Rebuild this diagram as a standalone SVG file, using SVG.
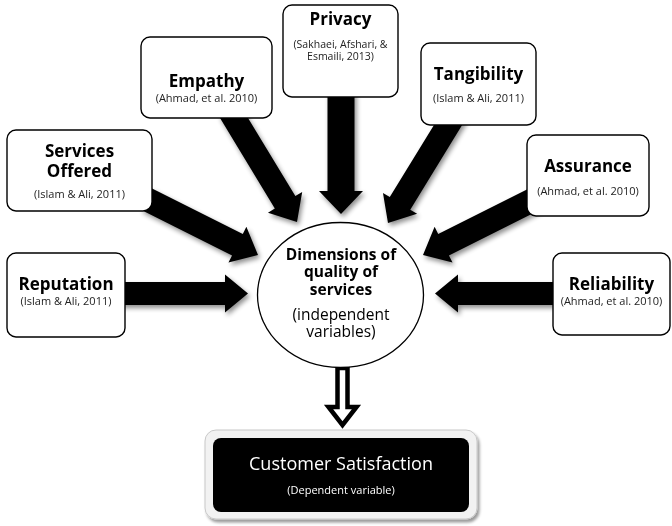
<svg xmlns="http://www.w3.org/2000/svg" width="672" height="526" viewBox="0 0 672 526">
  <defs>
    <style>
      text { font-family: "Open Sans", "Liberation Sans", sans-serif; text-anchor: middle; fill: #000; }
      .title { font-size: 17px; font-weight: 700; }
      .cite { font-size: 11px; font-weight: 400; fill: #222; }
      .cite-sm { font-size: 10.5px; font-weight: 400; fill: #222; }
      .core { font-size: 15.5px; font-weight: 700; }
      .core-sub { font-size: 15.5px; font-weight: 400; }
      .box { fill: #fff; stroke: #000; stroke-width: 1.4; }
      .arrow { fill: #000; }
      .out-title { font-size: 18px; font-weight: 400; fill: #fff; }
      .out-sub { font-size: 11px; font-weight: 400; fill: #fff; }
    </style>
    <filter id="softShadow" x="-30%" y="-30%" width="160%" height="160%">
      <feGaussianBlur in="SourceAlpha" stdDeviation="2.5"/>
      <feOffset dx="2" dy="3" result="blur"/>
      <feComponentTransfer><feFuncA type="linear" slope="0.45"/></feComponentTransfer>
      <feMerge><feMergeNode/><feMergeNode in="SourceGraphic"/></feMerge>
    </filter>
    <filter id="frameShadow" x="-10%" y="-20%" width="120%" height="150%">
      <feGaussianBlur in="SourceAlpha" stdDeviation="1.5"/>
      <feOffset dx="2" dy="3"/>
      <feComponentTransfer><feFuncA type="linear" slope="0.4"/></feComponentTransfer>
      <feMerge><feMergeNode/><feMergeNode in="SourceGraphic"/></feMerge>
    </filter>
  </defs>

  <!-- block arrows: each drawn pointing +x with its tip at the origin -->
  <g id="connectors" filter="url(#softShadow)">
    <path class="arrow" transform="translate(248,293.5)" d="M-128,-11.5 H-23 V-19 L0,0 L-23,19 V11.5 H-128 Z"/>
    <path class="arrow" transform="translate(435,293.5) rotate(180)" d="M-125,-11.5 H-23 V-19 L0,0 L-23,19 V11.5 H-125 Z"/>
    <path class="arrow" transform="translate(258,255) rotate(26.6)" d="M-125,-12 H-23 V-20 L0,0 L-23,20 V12 H-125 Z"/>
    <path class="arrow" transform="translate(423,255) rotate(153.4)" d="M-125,-12 H-23 V-20 L0,0 L-23,20 V12 H-125 Z"/>
    <path class="arrow" transform="translate(297,222) rotate(58.8)" d="M-132,-12 H-23 V-20 L0,0 L-23,20 V12 H-132 Z"/>
    <path class="arrow" transform="translate(388,223) rotate(121.5)" d="M-132,-12 H-23 V-20 L0,0 L-23,20 V12 H-132 Z"/>
    <path class="arrow" transform="translate(341,214) rotate(90)" d="M-125,-13.5 H-23 V-22 L0,0 L-23,22 V13.5 H-125 Z"/>
  </g>

  <!-- hollow arrow to the outcome -->
  <g id="outcome-link">
    <path d="M337.5,368 H347.5 V407 H356.5 L342.5,425 L328.5,407 H337.5 Z" fill="#fff" stroke="#000" stroke-width="4.5" stroke-linejoin="miter"/>
  </g>

  <g id="reputation">
    <rect class="box" x="7" y="253" width="118" height="84" rx="9"/>
    <text class="title" x="66" y="290">Reputation</text>
    <text class="cite" x="66" y="305">(Islam &amp; Ali, 2011)</text>
  </g>

  <g id="services-offered">
    <rect class="box" x="7" y="130" width="145" height="81" rx="9"/>
    <text class="title" x="79.5" y="157">Services</text>
    <text class="title" x="79.5" y="177">Offered</text>
    <text class="cite" x="79.5" y="198">(Islam &amp; Ali, 2011)</text>
  </g>

  <g id="empathy">
    <rect class="box" x="141" y="37" width="131" height="81" rx="9"/>
    <text class="title" x="206.5" y="87">Empathy</text>
    <text class="cite" x="206.5" y="102">(Ahmad, et al. 2010)</text>
  </g>

  <g id="privacy">
    <rect class="box" x="283" y="5" width="115" height="92" rx="9"/>
    <text class="title" x="340.5" y="25">Privacy</text>
    <text class="cite-sm" x="340.5" y="48">(Sakhaei, Afshari, &amp;</text>
    <text class="cite-sm" x="340.5" y="60">Esmaili, 2013)</text>
  </g>

  <g id="tangibility">
    <rect class="box" x="421" y="43" width="115" height="82" rx="9"/>
    <text class="title" x="478.5" y="80">Tangibility</text>
    <text class="cite" x="478.5" y="102">(Islam &amp; Ali, 2011)</text>
  </g>

  <g id="assurance">
    <rect class="box" x="527" y="135" width="122" height="81" rx="9"/>
    <text class="title" x="588" y="172">Assurance</text>
    <text class="cite" x="588" y="195">(Ahmad, et al. 2010)</text>
  </g>

  <g id="reliability">
    <rect class="box" x="553" y="253" width="117" height="82" rx="9"/>
    <text class="title" x="611.5" y="290">Reliability</text>
    <text class="cite" x="611.5" y="305">(Ahmad, et al. 2010)</text>
  </g>

  <g id="dimensions">
    <ellipse cx="340.5" cy="295" rx="83" ry="72.5" fill="#fff" stroke="#000" stroke-width="1.3"/>
    <text class="core" x="341" y="260">Dimensions of</text>
    <text class="core" x="341" y="277">quality of</text>
    <text class="core" x="341" y="295">services</text>
    <text class="core-sub" x="341" y="320">(independent</text>
    <text class="core-sub" x="341" y="337">variables)</text>
  </g>

  <g id="customer-satisfaction">
    <rect x="205" y="430" width="272" height="89" rx="11" fill="#f2f2f2" stroke="#c8c8c8" stroke-width="1" filter="url(#frameShadow)"/>
    <rect x="213" y="438" width="256" height="74" rx="8" fill="#000"/>
    <text class="out-title" x="341" y="470">Customer Satisfaction</text>
    <text class="out-sub" x="341" y="494">(Dependent variable)</text>
  </g>
</svg>
